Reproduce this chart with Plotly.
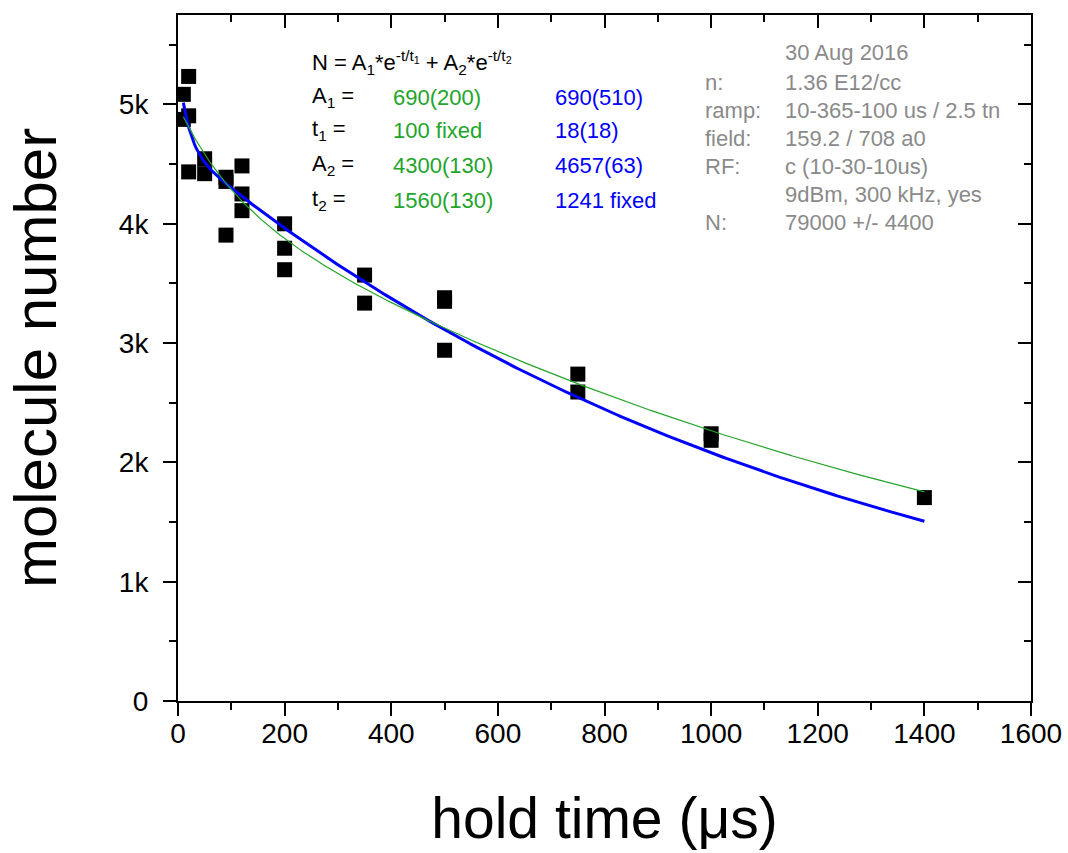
import numpy as np
import plotly.graph_objects as go

# ---- data ----
hold_time = [10, 20, 20, 10, 20, 50, 50, 90, 90, 90, 120, 120, 120,
             200, 200, 200, 350, 350, 500, 500, 500, 750, 750, 1000, 1000, 1400]
molecules = [5085, 5235, 4905, 4875, 4435, 4545, 4420, 4390, 4355, 3905, 4485, 4250, 4110,
             4000, 3795, 3615, 3570, 3335, 3380, 3350, 2940, 2740, 2590, 2240, 2185, 1705]

# fit parameters (as printed on chart)
fit_green = dict(A1=690, t1=100, A2=4300, t2=1560)
fit_blue = dict(A1=690, t1=18, A2=4657, t2=1241)
fit_tmin, fit_tmax = 10, 1400

y_tickvals = [0, 1000, 2000, 3000, 4000, 5000]
y_ticktext = ["0", "1k", "2k", "3k", "4k", "5k"]
x_tickvals = [0, 200, 400, 600, 800, 1000, 1200, 1400, 1600]

t_fit = np.linspace(fit_tmin, fit_tmax, 400)


def model(t, p):
    return p["A1"] * np.exp(-t / p["t1"]) + p["A2"] * np.exp(-t / p["t2"])


FONT = "Arial, Liberation Sans, sans-serif"
GREEN = "#22a52a"
BLUE = "#0000ff"
GRAY = "#8a8a8a"

fig = go.Figure()
fig.add_trace(go.Scatter(x=hold_time, y=molecules, mode="markers",
                         marker=dict(symbol="square", size=15, color="black", line=dict(width=0)),
                         showlegend=False))
fig.add_trace(go.Scatter(x=t_fit, y=model(t_fit, fit_blue), mode="lines",
                         line=dict(color=BLUE, width=3), showlegend=False))
fig.add_trace(go.Scatter(x=t_fit, y=model(t_fit, fit_green), mode="lines",
                         line=dict(color=GREEN, width=1.2), showlegend=False))
# invisible trace on mirror axes
fig.add_trace(go.Scatter(x=[0], y=[0], xaxis="x2", yaxis="y2", mode="markers",
                         marker=dict(opacity=0), showlegend=False, hoverinfo="skip"))

XR = [0, 1600]
YR = [0, 5750]

fig.update_layout(
    width=1068, height=853,
    margin=dict(l=178, r=37, t=15, b=152),
    plot_bgcolor="white", paper_bgcolor="white",
    font=dict(family=FONT, color="black"),
    xaxis=dict(range=XR, showgrid=False, zeroline=False, showline=True, linecolor="black", linewidth=2,
               automargin=False,
               ticks="outside", ticklen=13, tickwidth=2, tickcolor="black", ticklabelstandoff=-7,
               tickvals=x_tickvals, tickfont=dict(size=28, family=FONT),
               minor=dict(ticks="outside", ticklen=7, tickwidth=2, dtick=100, tick0=0, showgrid=False),
               title=dict(text="hold time (μs)", font=dict(size=57, family=FONT), standoff=51)),
    yaxis=dict(range=YR, showgrid=False, zeroline=False, showline=True, linecolor="black", linewidth=2,
               automargin=False,
               ticks="outside", ticklen=13, tickwidth=2, tickcolor="black", ticklabelstandoff=9,
               tickvals=y_tickvals, ticktext=y_ticktext, tickfont=dict(size=28, family=FONT),
               minor=dict(ticks="outside", ticklen=7, tickwidth=2, dtick=500, tick0=0, showgrid=False),
               title=dict(text="molecule number", font=dict(size=60, family=FONT), standoff=43)),
    xaxis2=dict(range=XR, overlaying="x", side="top", showgrid=False, zeroline=False, showline=True,
                linecolor="black", linewidth=2, ticks="inside", ticklen=13, tickwidth=2, tickcolor="black",
                tickvals=x_tickvals, showticklabels=False, automargin=False,
                minor=dict(ticks="inside", ticklen=7, tickwidth=2, dtick=100, tick0=0, showgrid=False)),
    yaxis2=dict(range=YR, overlaying="y", side="right", showgrid=False, zeroline=False, showline=True,
                linecolor="black", linewidth=2, ticks="inside", ticklen=13, tickwidth=2, tickcolor="black",
                tickvals=y_tickvals, showticklabels=False, automargin=False,
                minor=dict(ticks="inside", ticklen=7, tickwidth=2, dtick=500, tick0=0, showgrid=False)),
)

# ---- annotations ----
def px2data(px, py):
    return (px - 178) / 853 * 1600, (700.5 - py) / 685.5 * 5750


def note(px, py, text, color="black", size=22):
    x, y = px2data(px, py)
    fig.add_annotation(x=x, y=y, xref="x", yref="y", text=text, showarrow=False,
                       xanchor="left", yanchor="middle", font=dict(size=size, color=color, family=FONT))


note(310, 62, "N = A<sub>1</sub>*e<sup>-t/t<sub>1</sub></sup> + A<sub>2</sub>*e<sup>-t/t<sub>2</sub></sup>")
rows = [("A<sub>1</sub> =", "690(200)", "690(510)", 97),
        ("t<sub>1</sub> =", "100 fixed", "18(18)", 130),
        ("A<sub>2</sub> =", "4300(130)", "4657(63)", 165),
        ("t<sub>2</sub> =", "1560(130)", "1241 fixed", 200)]
for lab, g, b, py in rows:
    note(310, py, lab)
    note(391, py, g, GREEN)
    note(553, py, b, BLUE)

info = [("", "30 Aug 2016", 52), ("n:", "1.36 E12/cc", 82), ("ramp:", "10-365-100 us / 2.5 tn", 110),
        ("field:", "159.2 / 708 a0", 138), ("RF:", "c (10-30-10us)", 166),
        ("", "9dBm, 300 kHz, yes", 194), ("N:", "79000 +/- 4400", 222)]
for lab, val, py in info:
    if lab:
        note(703, py, lab, GRAY)
    note(783, py, val, GRAY)

fig.write_html("out.html", config={"displayModeBar": False},
               post_script="document.body.style.margin='0px';")
